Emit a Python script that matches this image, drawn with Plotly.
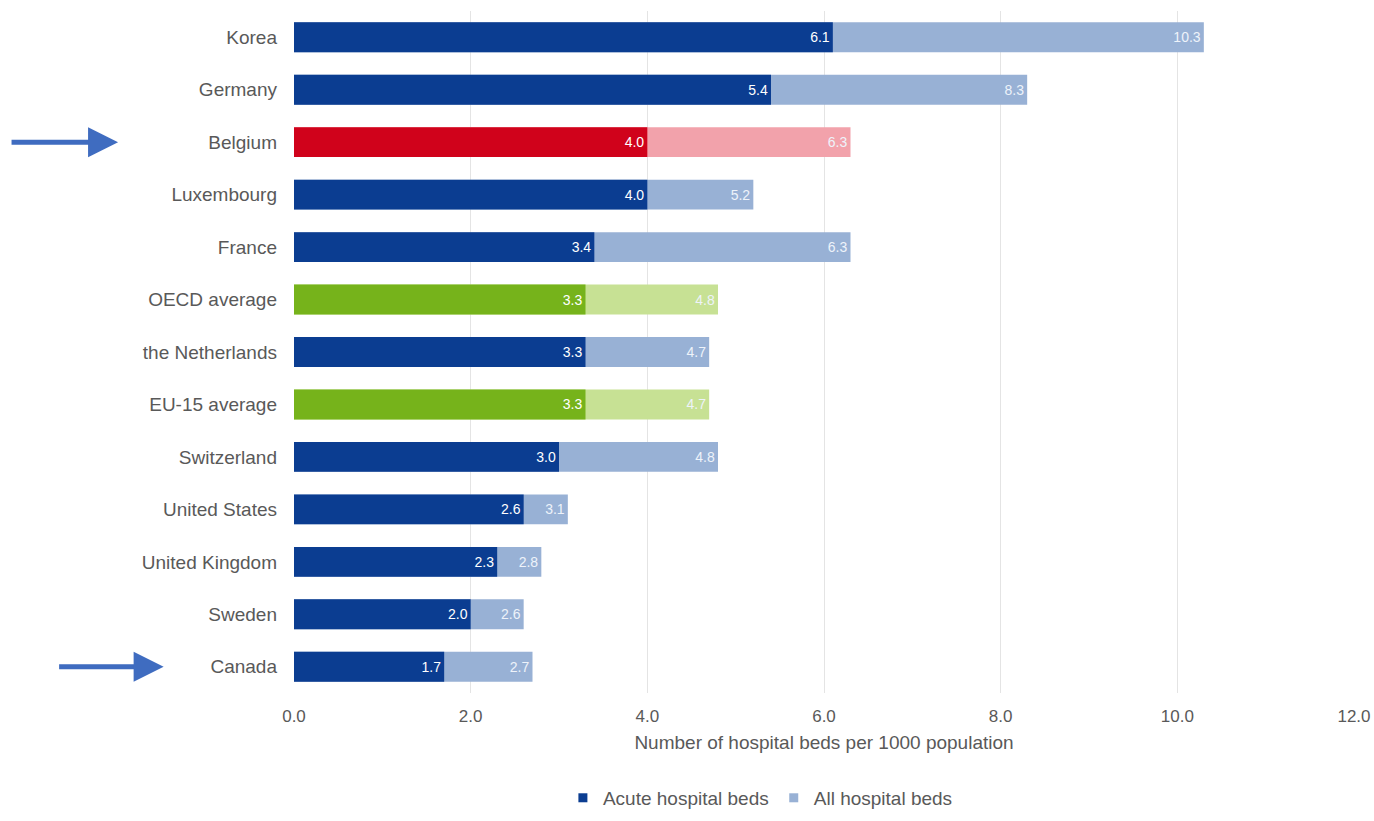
import plotly.graph_objects as go

countries = ["Korea", "Germany", "Belgium", "Luxembourg", "France", "OECD average",
             "the Netherlands", "EU-15 average", "Switzerland", "United States",
             "United Kingdom", "Sweden", "Canada"]
acute_beds = [6.1, 5.4, 4.0, 4.0, 3.4, 3.3, 3.3, 3.3, 3.0, 2.6, 2.3, 2.0, 1.7]
all_beds = [10.3, 8.3, 6.3, 5.2, 6.3, 4.8, 4.7, 4.7, 4.8, 3.1, 2.8, 2.6, 2.7]
x_ticks = [0, 2, 4, 6, 8, 10, 12]
highlight_arrows = ["Belgium", "Canada"]

DARK_BLUE = "#0b3d91"
LIGHT_BLUE = "#98b1d5"
RED = "#d0021b"
PINK = "#f2a2ab"
GREEN = "#76b31b"
LIGHT_GREEN = "#c7e194"

def acute_color(c):
    if c == "Belgium":
        return RED
    if c in ("OECD average", "EU-15 average"):
        return GREEN
    return DARK_BLUE

def all_color(c):
    if c == "Belgium":
        return PINK
    if c in ("OECD average", "EU-15 average"):
        return LIGHT_GREEN
    return LIGHT_BLUE

fig = go.Figure()
fig.add_trace(go.Bar(
    y=countries, x=all_beds, orientation="h", name="All hospital beds",
    marker=dict(color=[all_color(c) for c in countries], line=dict(width=0)),
    width=0.57, texttemplate="%{x:.1f}", textposition="inside",
    insidetextanchor="end", textfont=dict(color="#eef3fa", size=14),
    hoverinfo="x+y", showlegend=False,
))
fig.add_trace(go.Bar(
    y=countries, x=acute_beds, orientation="h", name="Acute hospital beds",
    marker=dict(color=[acute_color(c) for c in countries], line=dict(width=0)),
    width=0.57, texttemplate="%{x:.1f}", textposition="inside",
    insidetextanchor="end", textfont=dict(color="white", size=14),
    hoverinfo="x+y", showlegend=False,
))
# legend entries with small square symbols
fig.add_trace(go.Scatter(x=[None], y=[None], mode="markers", name="Acute hospital beds",
                         marker=dict(symbol="square", size=9, color=DARK_BLUE)))
fig.add_trace(go.Scatter(x=[None], y=[None], mode="markers", name="All hospital beds",
                         marker=dict(symbol="square", size=9, color=LIGHT_BLUE)))

annotations = []
arrow_spec = {"Belgium": (-0.166, -108), "Canada": (-0.123, -106)}
for c in highlight_arrows:
    xh, ax = arrow_spec[c]
    annotations.append(dict(
        x=xh, xref="paper", y=c, yref="y", ax=ax, ay=0, axref="pixel", ayref="pixel",
        showarrow=True, arrowhead=2, arrowsize=1.2, arrowwidth=5,
        arrowcolor="#3f6cc0", text="",
    ))

fig.update_layout(
    barmode="overlay",
    width=1374, height=821,
    margin=dict(l=294, r=20, t=11, b=128, autoexpand=False),
    paper_bgcolor="white", plot_bgcolor="white",
    font=dict(family="Liberation Sans, Arial, sans-serif", color="#595959", size=19),
    xaxis=dict(range=[0, 12], tickvals=x_ticks, tickformat=".1f",
               showgrid=True, gridcolor="#e4e4e4", gridwidth=1, zeroline=False,
               ticks="outside", ticklen=8, tickcolor="rgba(0,0,0,0)",
               tickfont=dict(size=17, color="#595959"),
               title=dict(text="Number of hospital beds per 1000 population",
                          font=dict(size=19, color="#595959"), standoff=10)),
    yaxis=dict(autorange="reversed", showgrid=False, ticks="", ticklen=0,
               ticklabelstandoff=16,
               tickfont=dict(size=19, color="#595959")),
    legend=dict(orientation="h", x=0.44, xanchor="center", y=-0.126, yanchor="top",
                font=dict(size=19, color="#595959"), itemwidth=30,
                tracegroupgap=0),
    annotations=annotations,
    showlegend=True,
)

fig.write_html("out.html")
